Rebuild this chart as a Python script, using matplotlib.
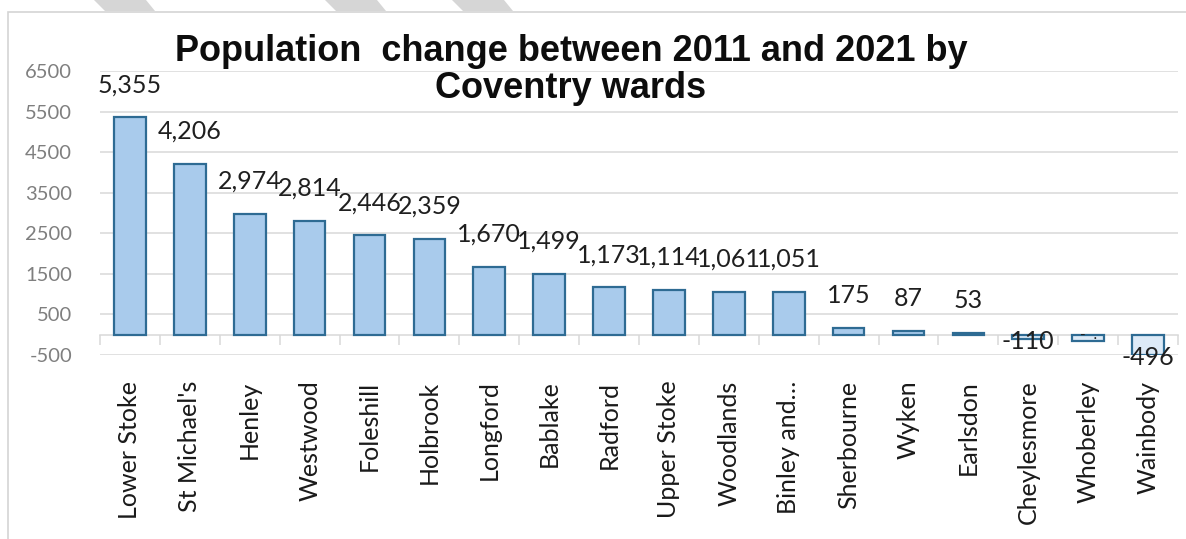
import matplotlib
matplotlib.use("Agg")
import matplotlib.pyplot as plt
from matplotlib.patches import Rectangle, Polygon
from matplotlib.ticker import FixedLocator, NullFormatter

wards = ["Lower Stoke", "St Michael's", "Henley", "Westwood", "Foleshill",
         "Holbrook", "Longford", "Bablake", "Radford", "Upper Stoke",
         "Woodlands", "Binley and…", "Sherbourne", "Wyken", "Earlsdon",
         "Cheylesmore", "Whoberley", "Wainbody"]
change = [5355, 4206, 2974, 2814, 2446, 2359, 1670, 1499, 1173, 1114,
          1061, 1051, 175, 87, 53, -110, -150, -496]
y_ticks = [-500, 500, 1500, 2500, 3500, 4500, 5500, 6500]
title = "Population  change between 2011 and 2021 by\nCoventry wards"

W, H = 1186, 539
fig = plt.figure(figsize=(W / 100, H / 100), dpi=100)
fig.patch.set_facecolor("white")


def px(x, y):
    return (x / W, 1 - y / H)


# light frame around the chart and the grey bands above it
fig.patches.append(Rectangle(px(8, 560), 1.2, (560 - 11.5) / H,
                             transform=fig.transFigure, fill=False,
                             edgecolor="#D4D4D4", lw=1.2, zorder=0))
for x0 in (94, 325, 452):
    pts = [px(x0, 0), px(x0 + 52, 0), px(x0 + 61, 11), px(x0 + 11, 11)]
    fig.patches.append(Polygon(pts, closed=True, transform=fig.transFigure,
                               facecolor="#D6D6D6", edgecolor="none", zorder=0))

ax = fig.add_axes([100 / W, 1 - 355 / H, (1178 - 100) / W, (355 - 71) / H])
ax.set_facecolor("none")

xs = list(range(len(wards)))
fills = ["#A9CBEC" if v >= 0 else "#DDEAF7" for v in change]
ax.bar(xs, change, width=0.53, color=fills, edgecolor="#2E6B93",
       linewidth=1.6, zorder=3)

ax.set_xlim(-0.5, len(wards) - 0.5)
ax.set_ylim(-500, 6500)
ax.set_yticks(y_ticks)
ax.set_yticklabels([str(t) for t in y_ticks])
ax.yaxis.grid(True, color="#D9D9D9", lw=1.1, zorder=0)
ax.tick_params(axis="y", length=0, pad=20, labelsize=14.5, labelcolor="#7F7F7F")
for lab in ax.get_yticklabels():
    lab.set_fontfamily("Lato")

for side in ("top", "right", "left"):
    ax.spines[side].set_visible(False)
ax.spines["bottom"].set_position(("data", 0))
ax.spines["bottom"].set_color("#D9D9D9")
ax.spines["bottom"].set_linewidth(1.1)
ax.spines["bottom"].set_zorder(2)

ax.set_xticks(xs)
ax.set_xticklabels(wards, rotation=90, ha="center", va="top",
                   fontsize=18, fontfamily="Lato", color="#1A1A1A")
ax.tick_params(axis="x", which="major", length=0, pad=33)
ax.xaxis.set_minor_locator(FixedLocator([i - 0.5 for i in range(len(wards) + 1)]))
ax.xaxis.set_minor_formatter(NullFormatter())
ax.tick_params(axis="x", which="minor", length=7.5, width=1.1,
               color="#D9D9D9", direction="out")

for i, v in enumerate(change):
    if v >= 0:
        ax.annotate(f"{v:,}", (i, v), xytext=(0, 18), textcoords="offset points",
                    ha="center", va="baseline", fontsize=18, fontfamily="Lato",
                    color="#1F1F1F", zorder=5)
    elif i == len(change) - 2:
        # label too long for the gap, only fragments remain visible
        ax.annotate("-  .", (i, v), xytext=(0, 4), textcoords="offset points",
                    ha="center", va="center", fontsize=11, fontfamily="Lato",
                    color="#1F1F1F", zorder=5)
    else:
        ax.annotate(f"{v:,}", (i, v), xytext=(0, -2), textcoords="offset points",
                    ha="center", va="center", fontsize=18, fontfamily="Lato",
                    color="#1F1F1F", zorder=5)

fig.text(571 / W, 1 - 98 / H, title, ha="center", va="baseline",
         multialignment="center", fontsize=26, fontweight="bold",
         linespacing=1.08, fontfamily="Liberation Sans", color="#0D0D0D")

fig.savefig("out.png", dpi=100)
